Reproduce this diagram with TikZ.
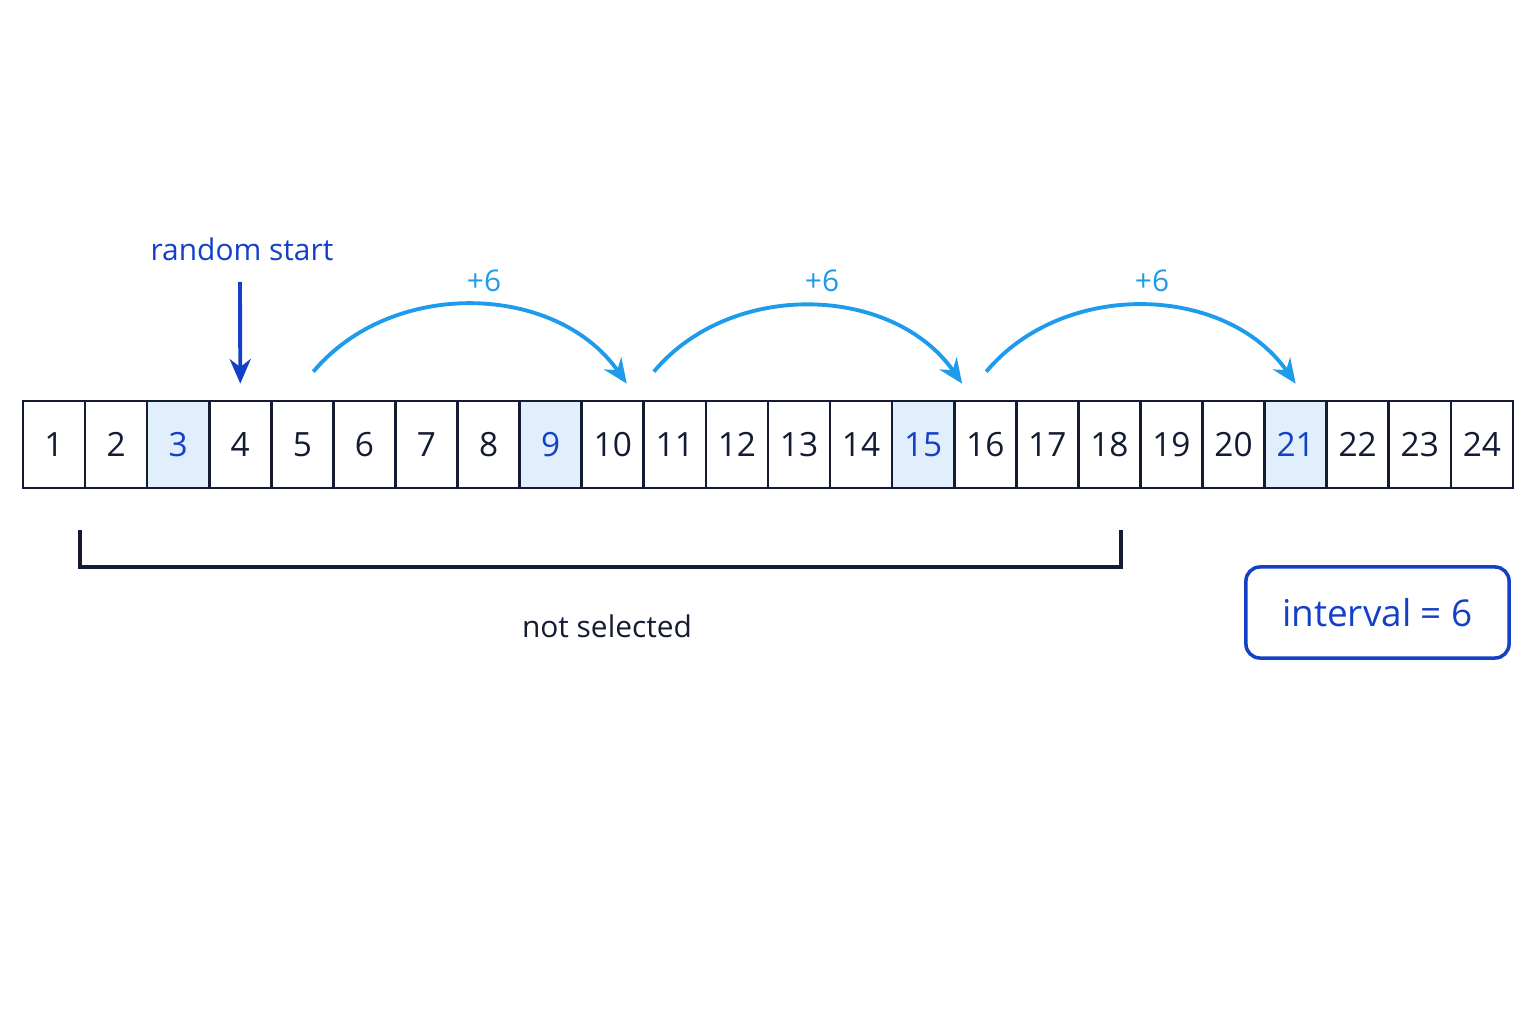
\documentclass[tikz,border=0pt]{standalone}
\usepackage{fontspec}
\setmainfont{Open Sans}
\usetikzlibrary{calc,arrows.meta}
\definecolor{ink}{HTML}{141B33}
\definecolor{deepblue}{HTML}{1440C8}
\definecolor{skyblue}{HTML}{1E9BEA}
\definecolor{selfill}{HTML}{E1EFFC}
\begin{document}
\begin{tikzpicture}[%
    x=0.01cm, y=0.01cm,
    cell/.style={
        draw=ink, line width=0.75pt, fill=white,
        minimum width=0.6208cm, minimum height=0.87cm,
        inner sep=0pt, text=ink, font=\fontsize{9.5}{11}\selectfont
    },
    sel/.style={cell, fill=selfill, text=deepblue},
    hop/.style={skyblue, line width=1.1pt, -{Stealth[length=7pt,width=6pt]}},
    hoplabel/.style={text=skyblue, font=\fontsize{8.5}{10}\selectfont}
]
    % Page frame.
    \useasboundingbox (0,0) rectangle (1536,1024);

    % The row of cells, every sixth one from 3 is picked.
    \foreach \i in {1,...,24}{
        \pgfmathtruncatemacro\r{mod(\i,6)}
        \ifnum\r=3 \def\st{sel}\else\def\st{cell}\fi
        \node[\st] (c\i) at ({23+(\i-0.5)*62.08},579.5) {\i};
    }

    % Random start marker.
    \coordinate (rs) at (240,742);
    \node[text=deepblue, font=\fontsize{8.5}{10}\selectfont, anchor=south]
        (rslabel) at (242,751) {random start};
    \draw[deepblue, line width=1.1pt, -{Stealth[length=7pt,width=6pt]}]
        (rs) -- ($(c4.north)+(0,16)$);

    % Jumps of six.
    \draw[hop] ($(c5.north)+(11,28)$) to[out=50,in=125] ($(c10.north)+(14,16)$);
    \draw[hop] ($(c11.north)+(-21,28)$) to[out=50,in=125] ($(c15.north)+(39,16)$);
    \draw[hop] ($(c16.north)+(1,28)$) to[out=50,in=125] ($(c21.north)+(0,16)$);
    \node[hoplabel] (h1) at (484,743) {+6};
    \node[hoplabel] (h2) at (822,743) {+6};
    \node[hoplabel] (h3) at (1152,743) {+6};

    % Bracket under the skipped cells.
    \draw[ink, line width=1pt] (80,494) -- (80,457) -- (1121,457) -- (1121,494);
    \node[text=ink, font=\fontsize{8.5}{10}\selectfont] (ns) at (607,398) {not selected};

    % Interval box.
    \node[draw=deepblue, line width=1pt, rounded corners=4pt, text=deepblue,
          minimum width=2.63cm, minimum height=0.91cm,
          font=\fontsize{10.5}{12}\selectfont] (iv) at (1377.5,411.5) {interval = 6};
\end{tikzpicture}
\end{document}
